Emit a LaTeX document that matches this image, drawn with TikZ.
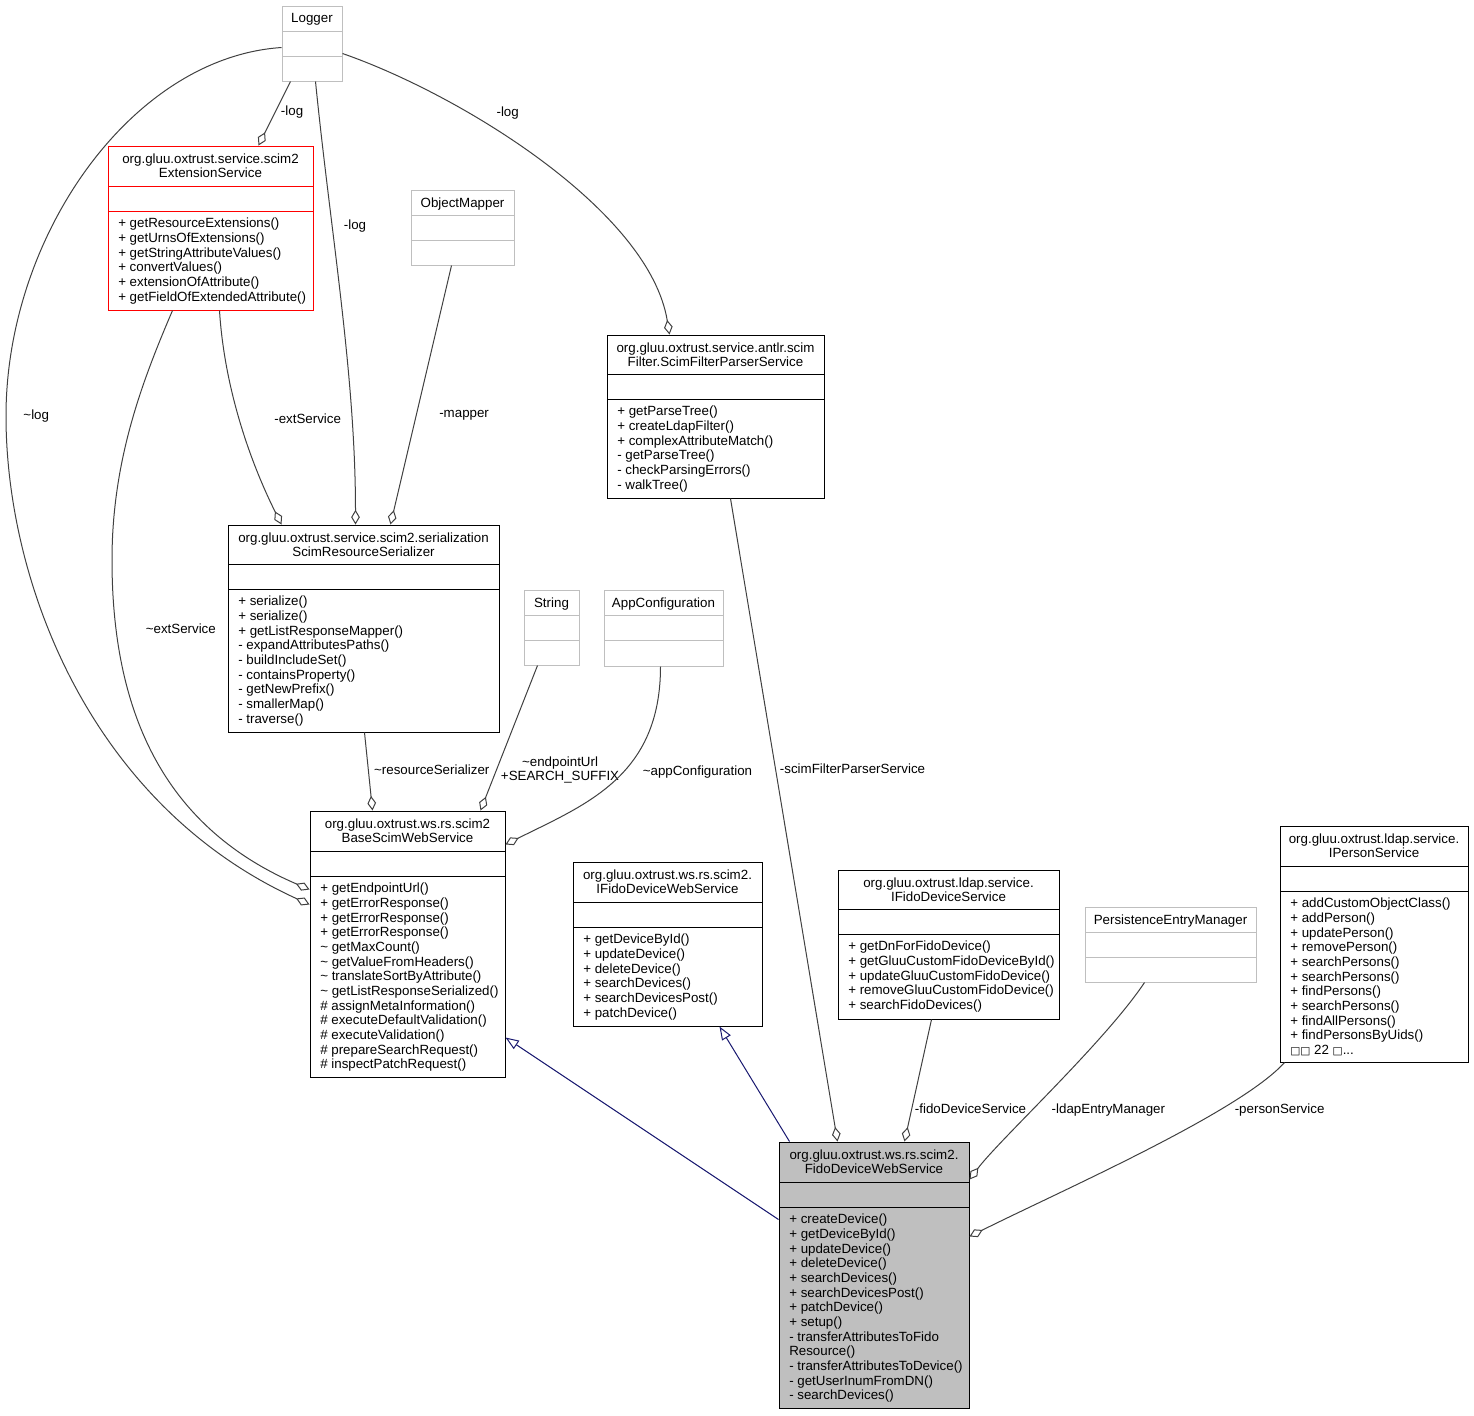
\documentclass[tikz,border=0pt]{standalone}
\usepackage{fontspec}
\setmainfont{Liberation Sans}
\newfontfamily\boxglyphs{DejaVu Sans}
\usepackage{tikz}
\usetikzlibrary{arrows.meta,calc,fit,positioning}

\definecolor{edgegray}{HTML}{404040}
\definecolor{boxgray}{HTML}{BFBFBF}
\definecolor{focusgray}{HTML}{BFBFBF}
\definecolor{inheritblue}{HTML}{191970}

\tikzset{
  classbox/.style={draw=black, line width=0.75pt, fill=white, inner sep=0pt},
  greybox/.style={classbox, draw=boxgray},
  redbox/.style={classbox, draw=red},
  focusbox/.style={classbox, fill=focusgray},
  titletext/.style={font=\fontsize{10}{10.5}\selectfont, align=center, inner sep=0pt},
  membertext/.style={font=\fontsize{10}{11}\selectfont, align=left, inner sep=0pt},
  member/.style={draw=edgegray, line width=0.75pt, -{Diamond[open,length=11pt,width=6.5pt]}},
  derived/.style={draw=inheritblue, line width=0.75pt, -{Triangle[open,length=10pt,width=7.5pt]}},
  lbl/.style={font=\fontsize{10}{11}\selectfont, align=center, inner sep=0pt}
}

% class box: [style]{name}{x1}{y1}{x2}{y2}{bottom of title part}{title}{members}
\newcommand{\umlclass}[9][classbox]{%
  \node[#1, fit={(#3,#4) (#5,#6)}] (#2) {};
  \draw[#1, fill=none] (#3,#7) -- (#5,#7) (#3,#7+25) -- (#5,#7+25);
  \node[titletext, anchor=north] (#2-title) at ($(#2.north)+(0,8)$) {#8};
  \node[membertext, anchor=north west] (#2-ops) at (#3+10,#7+32) {#9};
}

\begin{document}
\begin{tikzpicture}[x=0.75pt, y=-0.75pt]
\useasboundingbox (0,0) rectangle (1474,1415);

\umlclass[greybox]{logger}{282}{6}{342}{81}{31}{Logger}{}
\umlclass[redbox]{extsvc}{108}{146}{313}{310}{186}
  {org.gluu.oxtrust.service.scim2\\ExtensionService}
  {+ getResourceExtensions()\\+ getUrnsOfExtensions()\\+ getStringAttributeValues()\\+ convertValues()\\+ extensionOfAttribute()\\+ getFieldOfExtendedAttribute()}
\umlclass[greybox]{objmap}{411}{190}{514}{265}{215}{ObjectMapper}{}
\umlclass{filtersvc}{607}{335}{824}{498}{374}
  {org.gluu.oxtrust.service.antlr.scim\\Filter.ScimFilterParserService}
  {+ getParseTree()\\+ createLdapFilter()\\+ complexAttributeMatch()\\- getParseTree()\\- checkParsingErrors()\\- walkTree()}
\umlclass{serializer}{228}{525}{499}{732}{564}
  {org.gluu.oxtrust.service.scim2.serialization\\ScimResourceSerializer}
  {+ serialize()\\+ serialize()\\+ getListResponseMapper()\\- expandAttributesPaths()\\- buildIncludeSet()\\- containsProperty()\\- getNewPrefix()\\- smallerMap()\\- traverse()}
\umlclass[greybox]{strcls}{524}{590}{579}{665}{615}{String}{}
\umlclass[greybox]{appconf}{604}{590}{723}{666}{615}{AppConfiguration}{}
\umlclass{basews}{310}{811}{505}{1077}{851}
  {org.gluu.oxtrust.ws.rs.scim2\\BaseScimWebService}
  {+ getEndpointUrl()\\+ getErrorResponse()\\+ getErrorResponse()\\+ getErrorResponse()\\\textasciitilde{} getMaxCount()\\\textasciitilde{} getValueFromHeaders()\\\textasciitilde{} translateSortByAttribute()\\\textasciitilde{} getListResponseSerialized()\\\# assignMetaInformation()\\\# executeDefaultValidation()\\\# executeValidation()\\\# prepareSearchRequest()\\\# inspectPatchRequest()}
\umlclass{ifidows}{573}{862}{762}{1026}{902}
  {org.gluu.oxtrust.ws.rs.scim2.\\IFidoDeviceWebService}
  {+ getDeviceById()\\+ updateDevice()\\+ deleteDevice()\\+ searchDevices()\\+ searchDevicesPost()\\+ patchDevice()}
\umlclass{ifidosvc}{838}{870}{1059}{1019}{909}
  {org.gluu.oxtrust.ldap.service.\\IFidoDeviceService}
  {+ getDnForFidoDevice()\\+ getGluuCustomFidoDeviceById()\\+ updateGluuCustomFidoDevice()\\+ removeGluuCustomFidoDevice()\\+ searchFidoDevices()}
\umlclass[greybox]{persistmgr}{1085}{907}{1256}{982}{932}{PersistenceEntryManager}{}
\umlclass{ipersonsvc}{1280}{826}{1468}{1062}{866}
  {org.gluu.oxtrust.ldap.service.\\IPersonService}
  {+ addCustomObjectClass()\\+ addPerson()\\+ updatePerson()\\+ removePerson()\\+ searchPersons()\\+ searchPersons()\\+ findPersons()\\+ searchPersons()\\+ findAllPersons()\\+ findPersonsByUids()\\{\boxglyphs\fontsize{8}{11}\selectfont □□} 22 {\boxglyphs\fontsize{8}{11}\selectfont □}...}
\umlclass[focusbox]{fidows}{779}{1142}{969}{1408}{1182}
  {org.gluu.oxtrust.ws.rs.scim2.\\FidoDeviceWebService}
  {+ createDevice()\\+ getDeviceById()\\+ updateDevice()\\+ deleteDevice()\\+ searchDevices()\\+ searchDevicesPost()\\+ patchDevice()\\+ setup()\\- transferAttributesToFido\\Resource()\\- transferAttributesToDevice()\\- getUserInumFromDN()\\- searchDevices()}

\coordinate (logbend) at (6,416);
\coordinate (extbend) at (112,560);

% members
\draw[member] ($(logger.south west)+(9,0)$) -- node[lbl, pos=0.48, anchor=west, xshift=4pt] {-log} ($(extsvc.north west)+(151,0)$);
\draw[member] ($(logger.south west)+(34,0)$) .. controls +(15,150) and +(0,-150) .. node[lbl, pos=0.325, anchor=west, xshift=8.5pt] {-log} ($(serializer.north west)+(128,0)$);
\draw[member] ($(logger.north west)+(0,42)$) .. controls +(-150,10) and +(0,-180) .. (logbend) node[lbl, anchor=west, xshift=12.75pt] {\textasciitilde log} .. controls +(0,165) and +(-220,-100) .. ($(basews.north west)+(0,94)$);
\draw[member] ($(logger.north east)+(0,48)$) .. controls +(118,41) and +(-20,-124) .. node[lbl, pos=0.3, anchor=west, xshift=26pt, yshift=-3pt] {-log} ($(filtersvc.north west)+(63,0)$);
\draw[member] ($(extsvc.south west)+(112,0)$) .. controls +(5,80) and +(-30,-60) .. node[lbl, pos=0.47, anchor=west, xshift=26pt] {-extService} ($(serializer.north west)+(54,0)$);
\draw[member] ($(extsvc.south west)+(65,0)$) .. controls +(-30,70) and +(0,-100) .. (extbend) .. controls +(0,160) and +(-140,-60) .. node[lbl, pos=0.15, anchor=west, xshift=22pt] {\textasciitilde extService} ($(basews.north west)+(0,79)$);
\draw[member] ($(objmap.south west)+(41,0)$) -- node[lbl, pos=0.58, anchor=west, xshift=17pt] {-mapper} ($(serializer.north east)+(-109,0)$);
\draw[member] ($(serializer.south west)+(137,0)$) -- node[lbl, pos=0.48, anchor=west, xshift=4pt] {\textasciitilde resourceSerializer} ($(basews.north west)+(63,0)$);
\draw[member] ($(strcls.south west)+(14,0)$) -- node[lbl, pos=0.72, anchor=west, xshift=3pt] {\textasciitilde endpointUrl\\+SEARCH\_SUFFIX} ($(basews.north east)+(-25,0)$);
\draw[member] ($(appconf.south west)+(57,0)$) .. controls +(0,110) and +(80,-40) .. node[lbl, pos=0.4, anchor=west, xshift=10pt, yshift=-5pt] {\textasciitilde appConfiguration} ($(basews.north east)+(0,34)$);
\draw[member] ($(filtersvc.south west)+(124,0)$) -- node[lbl, pos=0.42, anchor=west, xshift=3pt] {-scimFilterParserService} ($(fidows.north west)+(59,0)$);
\draw[member] ($(ifidosvc.south west)+(94,0)$) -- node[lbl, pos=0.73, anchor=west, xshift=2pt] {-fidoDeviceService} ($(fidows.north west)+(126,0)$);
\draw[member] ($(persistmgr.south west)+(60,0)$) .. controls +(-40,60) and +(30,-40) .. node[lbl, pos=0.6, anchor=west, xshift=14pt] {-ldapEntryManager} ($(fidows.north east)+(0,38)$);
\draw[member] ($(ipersonsvc.south west)+(5,0)$) .. controls +(-45,50) and +(90,-45) .. node[lbl, pos=0.25, anchor=west, xshift=4pt, yshift=-4pt] {-personService} ($(fidows.north east)+(0,95)$);

% inheritance
\draw[derived] ($(fidows.north west)+(0,78)$) -- ($(basews.south east)+(0,-40)$);
\draw[derived] ($(fidows.north west)+(11,0)$) -- ($(ifidows.south west)+(147,0)$);
\end{tikzpicture}
\end{document}
